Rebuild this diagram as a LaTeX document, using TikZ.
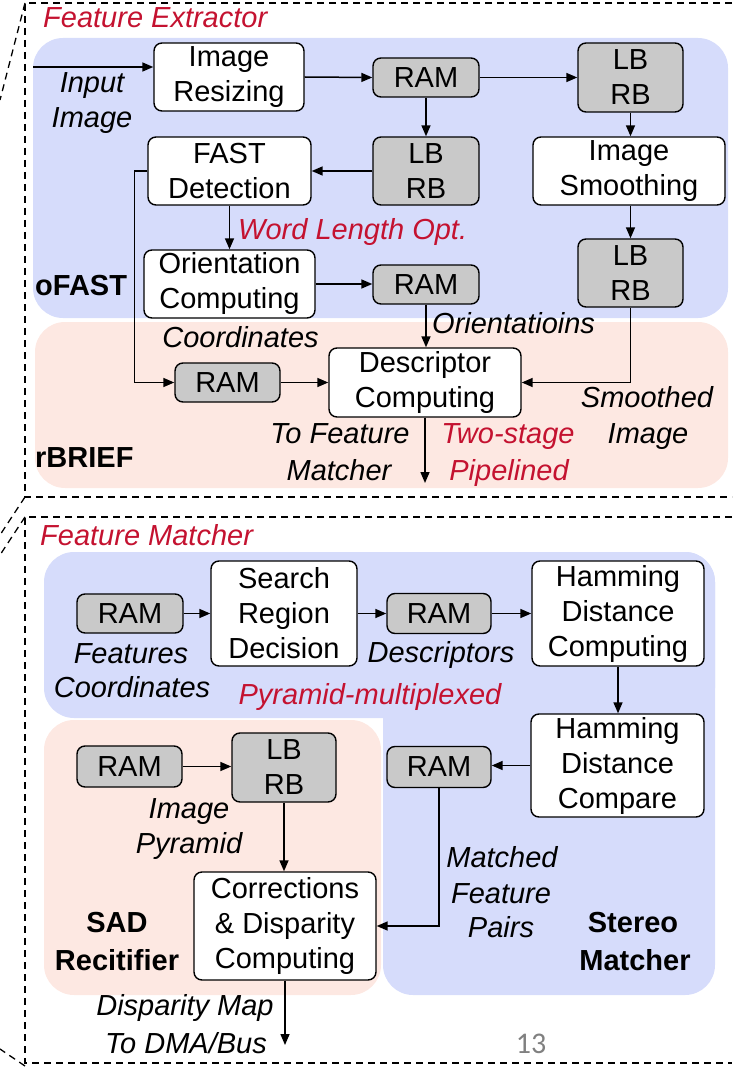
\documentclass[tikz,border=0pt]{standalone}
\usepackage{fontspec}
\setmainfont{Liberation Sans}
\newfontfamily\pagenumfont{Carlito}
\usetikzlibrary{arrows.meta}
\definecolor{regblue}{RGB}{214,220,251}
\definecolor{regpink}{RGB}{253,232,226}
\definecolor{memgray}{RGB}{201,201,201}
\definecolor{notered}{RGB}{196,18,48}
\newcommand{\dfont}{\fontsize{29}{35}\selectfont}
\begin{document}
\begin{tikzpicture}[x=1pt,y=-1pt,
  box/.style={draw, line width=1.4pt, rounded corners=8pt, fill=white,
    align=center, inner sep=0pt, font=\dfont},
  mem/.style={box, fill=memgray},
  arr/.style={line width=1.5pt, -{Triangle[length=11pt,width=9pt]}},
  lbl/.style={font=\dfont\itshape, anchor=base, inner sep=0pt},
  note/.style={lbl, text=notered},
  unit/.style={font=\dfont\bfseries, anchor=base, inner sep=0pt},
  frame/.style={line width=1.3pt, dash pattern=on 7pt off 5pt},
  region/.style={rounded corners=30pt}]
\useasboundingbox (0,0) rectangle (732,1067);

% ---------- dashed frames ----------
\draw[frame] (732,3) -- (25,3) -- (25,497) -- (732,497);
\draw[frame] (732,517) -- (25,517) -- (25,1063) -- (732,1063);
\draw[frame] (25,3) -- (0,100);
\draw[frame] (25,497) -- (0,535);
\draw[frame] (25,517) -- (0,555);
\draw[frame] (25,1066) -- (0,1049);

% ---------- shaded regions ----------
\fill[regblue, region] (33,38) rectangle (728,318);
\fill[regpink, region] (35,322) rectangle (728,488);
\fill[regblue, region] (44,552) rectangle (715,718);
\fill[regblue, region] (383,552) rectangle (715,995);
\fill[regpink, region] (44,720) rectangle (381,995);

% ---------- feature extractor ----------
\node[note, anchor=base west] (fetitle) at (43,28) {Feature Extractor};

\node[box, minimum width=150pt, minimum height=68pt] (resize) at (229,77) {Image\\Resizing};
\node[mem, minimum width=106pt, minimum height=39pt] (ram1) at (426,77.5) {RAM};
\node[mem, minimum width=105pt, minimum height=69pt] (lbrb1) at (630.5,77.5) {LB\\RB};
\node[mem, minimum width=106pt, minimum height=68pt] (lbrb2) at (426,171) {LB\\RB};
\node[box, minimum width=163pt, minimum height=68pt] (fast) at (229.5,171) {FAST\\Detection};
\node[box, minimum width=192pt, minimum height=68pt] (smooth) at (629,171) {Image\\Smoothing};
\node[mem, minimum width=105pt, minimum height=68pt] (lbrb3) at (630.5,273) {LB\\RB};
\node[box, minimum width=171pt, minimum height=68pt] (orient) at (229.5,284) {Orientation\\Computing};
\node[mem, minimum width=106pt, minimum height=39pt] (ram2) at (426,284.5) {RAM};
\node[box, minimum width=192pt, minimum height=69pt] (desc) at (425,382.5) {Descriptor\\Computing};
\node[mem, minimum width=105pt, minimum height=39pt] (ram3) at (227.5,382.5) {RAM};

\coordinate (inp) at (33,67);
\coordinate (descout) at (425,483);

\draw[arr] (inp) -- (inp -| resize.west);
\draw[arr] (resize.east) -- (ram1.west);
\draw[arr] (ram1.east) -- (lbrb1.west);
\draw[arr] (ram1.south) -- (lbrb2.north);
\draw[arr] (lbrb2.west) -- (fast.east);
\draw[arr] (lbrb1.south) -- (lbrb1.south |- smooth.north);
\draw[arr] (smooth.south -| lbrb3) -- (lbrb3.north);
\draw[arr] (fast.south) -- (orient.north);
\draw[arr] (orient.east) -- (orient.east -| ram2.west);
\draw[arr] (ram2.south) -- (ram2.south |- desc.north);
\draw[arr] (fast.west) -- ++(-13,0) |- (ram3.west);
\draw[arr] (ram3.east) -- (desc.west);
\draw[arr] (lbrb3.south) |- (desc.east);
\draw[arr] (desc.south) -- (descout);

\node[lbl] (inl1) at (92,93) {Input};
\node[lbl] (inl2) at (92,128) {Image};
\node[note, anchor=base west] (wlo) at (238,240) {Word Length Opt.};
\node[unit, anchor=base west] (ofast) at (35,295) {oFAST};
\node[lbl] (coordl) at (240.5,347) {Coordinates};
\node[lbl, anchor=base west] (orientl) at (432,333) {Orientatioins};
\node[lbl] (sml1) at (647,407) {Smoothed};
\node[lbl] (sml2) at (648,443) {Image};
\node[lbl] (tfm1) at (340,443) {To Feature};
\node[lbl] (tfm2) at (339,480) {Matcher};
\node[note] (tsp1) at (508,443) {Two-stage};
\node[note] (tsp2) at (509,480) {Pipelined};
\node[unit, anchor=base west] (rbrief) at (35,467) {rBRIEF};

% ---------- feature matcher ----------
\node[note, anchor=base west] (fmtitle) at (40,545) {Feature Matcher};

\node[mem, minimum width=106pt, minimum height=39pt] (ram4) at (130,613.5) {RAM};
\node[box, minimum width=146pt, minimum height=105pt] (search) at (284,613.5) {Search\\Region\\Decision};
\node[mem, minimum width=104pt, minimum height=40pt] (ram5) at (439,613.5) {RAM};
\node[box, minimum width=172pt, minimum height=105pt] (hdcomp) at (618,613.5) {Hamming\\Distance\\Computing};
\node[box, minimum width=173pt, minimum height=103pt] (hdcmp) at (617.5,765.5) {Hamming\\Distance\\Compare};
\node[mem, minimum width=104pt, minimum height=41pt] (ram6) at (439,767) {RAM};
\node[mem, minimum width=105pt, minimum height=41pt] (ram7) at (129.5,766.5) {RAM};
\node[mem, minimum width=104pt, minimum height=69pt] (lbrb4) at (284,767.5) {LB\\RB};
\node[box, minimum width=182pt, minimum height=108pt] (corr) at (285,926) {Corrections\\\& Disparity\\Computing};

\coordinate (corrout) at (285,1045);

\draw[arr] (ram4.east) -- (ram4.east -| search.west);
\draw[arr] (search.east) -- (search.east -| ram5.west);
\draw[arr] (ram5.east) -- (ram5.east -| hdcomp.west);
\draw[arr] (hdcomp.south) -- (hdcomp.south |- hdcmp.north);
\draw[arr] (hdcmp.west) -- (hdcmp.west -| ram6.east);
\draw[arr] (ram7.east) -- (ram7.east -| lbrb4.west);
\draw[arr] (lbrb4.south) -- (lbrb4.south |- corr.north);
\draw[arr] (ram6.south) |- (corr.east);
\draw[arr] (corr.south) -- (corrout);

\node[lbl] (fcl1) at (131,663) {Features};
\node[lbl] (fcl2) at (132,697) {Coordinates};
\node[lbl] (descl) at (441,662) {Descriptors};
\node[note] (pmux) at (370,704) {Pyramid-multiplexed};
\node[lbl] (ipl1) at (189,818) {Image};
\node[lbl] (ipl2) at (189,853) {Pyramid};
\node[lbl] (mfp1) at (502,867) {Matched};
\node[lbl] (mfp2) at (501,903) {Feature};
\node[lbl] (mfp3) at (501,937) {Pairs};
\node[unit] (sad1) at (117,932) {SAD};
\node[unit] (sad2) at (117,970) {Recitifier};
\node[unit] (stm1) at (633,932) {Stereo};
\node[unit] (stm2) at (635,970) {Matcher};
\node[lbl] (dm1) at (185,1015) {Disparity Map};
\node[lbl] (dm2) at (186,1053) {To DMA/Bus};

\node[anchor=base, inner sep=0pt, text=black!50, font=\pagenumfont\fontsize{30}{36}\selectfont] (pnum) at (531,1053) {13};
\end{tikzpicture}
\end{document}
